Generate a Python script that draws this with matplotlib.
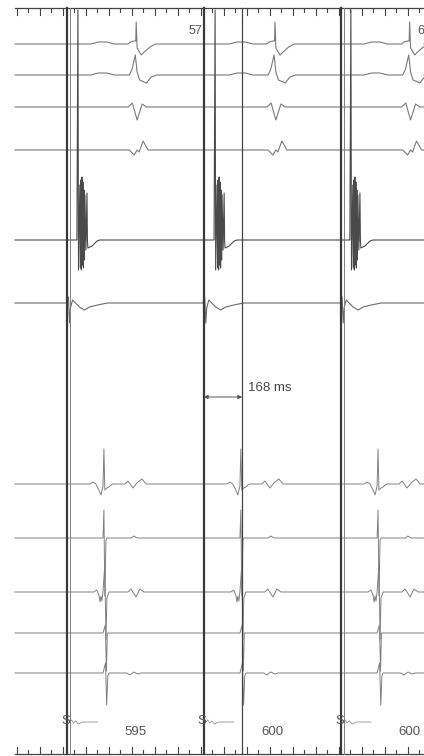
import matplotlib
matplotlib.use("Agg")
import matplotlib.pyplot as plt
import numpy as np

# ---------------- data (times in ms, amplitudes in display units) ----------------
stim_times = [0, 595, 1195]                 # pacing stimuli S
interval_labels = ["595", "600", "600"]
interval_values = [595, 600, 600]
measured_interval = 168                      # ms after 2nd stimulus
measured_label = "168 ms"
upper_times = [300, 906, 1494]               # surface deflections (ch1-4)
ch5_times = [63, 662, 1255]                  # large near-field deflection
lower_times = [159, 757, 1356]               # lower channel activation

top_labels = ["57", "6"]
top_label_times = [587, 1530]

# waveform templates: (ms offset from beat, amplitude)
tpl_ch1 = [(-200, 0), (-165, 2), (-130, 2), (-96, 0), (-35, 0), (-26, 2), (-9, 3), (-2, 3),
           (0, 22), (4, -4), (22, -11), (35, -8), (60, -3), (85, 0)]
tpl_ch2 = [(-200, 0), (-165, 2), (-130, 2), (-95, 0), (-30, 0), (-18, 6), (-4, 20), (4, 3),
           (15, -5), (45, -8), (65, -2), (90, 0)]
tpl_ch3 = [(-35, 0), (-17, 4), (4, -13), (26, 3), (44, 0)]
tpl_ch4 = [(-30, 0), (-9, -5), (4, 0), (13, -2), (30, 9), (52, 0)]
tpl_ch5 = [(-35, 0), (-22, 0), (-17.5, 230), (-15, -30), (-9, 55), (-6.5, -28), (-4.4, 60),
           (-2.2, -30), (0, 63), (2.2, -25), (4.4, 58), (6.5, -28), (8.7, 50), (11, -20),
           (13, 45), (17.5, -10), (22, 47), (24, 0), (26, -8), (44, -6), (66, -1), (79, 0)]
tpl_ch6 = [(-4, 0), (4, 6), (9, -20), (13, -5), (22, 3), (35, 0), (52, -4), (74, -7),
           (96, -4), (131, -2), (175, 0)]
tpl_ch7 = [(-61, 0), (-48, 2), (-35, 0), (-22, -6), (-13, -11), (-4, -2), (0, 35), (4, -6),
           (13, -4), (22, -3), (31, -1), (39, 0), (92, 0), (105, 3), (127, -4), (144, 1),
           (166, 5), (184, 0)]
tpl_ch8 = [(-13, 0), (-4, 0), (0, 28), (4, -58), (9, -2), (13, 0), (120, 0), (130, 2), (145, 0)]
tpl_ch9 = [(-44, 0), (-31, 2), (-22, -3), (-17, -10), (-13, -4), (-9, -9), (-4, 0), (4, 28),
           (9, -48), (13, -6), (22, 0), (105, 0), (118, 3), (140, -5), (157, 3), (175, 0)]
tpl_ch10 = [(-4, 0), (6, 8), (11, -38), (15, 0)]
tpl_ch11 = [(-4, 0), (7, 10), (12, -32), (17, -3), (22, 0), (100, 0), (113, -2), (131, 1),
            (148, -1), (162, 0)]
tpl_ch12 = [(9, 0), (18, 2), (26, -1), (35, 1), (48, -2), (66, 0), (130, 0)]

# ---------------- layout ----------------
W, H = 424, 756
X0_PX, PX_PER_MS = 67.5, 0.229
t_left = -X0_PX / PX_PER_MS
t_right = (W - X0_PX) / PX_PER_MS
t_start = (15 - X0_PX) / PX_PER_MS

fig = plt.figure(figsize=(W / 100, H / 100), dpi=100)
ax = fig.add_axes([0, 0, 1, 1])
ax.set_xlim(t_left, t_right)
ax.set_ylim(H, 0)
ax.axis("off")

def build(times, tpl, t0=t_start, t1=t_right, full=True):
    ts, ys = ([t0], [0]) if full else ([], [])
    for b in times:
        for dt, a in tpl:
            ts.append(b + dt)
            ys.append(a)
    if full:
        ts.append(t1)
        ys.append(0)
    return np.array(ts), np.array(ys)

channels = [
    (44, upper_times, tpl_ch1, "#7a7a7a", 0.8),
    (75, upper_times, tpl_ch2, "#7a7a7a", 0.8),
    (107, upper_times, tpl_ch3, "#7a7a7a", 0.8),
    (150, upper_times, tpl_ch4, "#7a7a7a", 0.8),
    (240, ch5_times, tpl_ch5, "#4a4a4a", 0.8),
    (303, stim_times, tpl_ch6, "#6a6a6a", 0.8),
    (484, lower_times, tpl_ch7, "#808080", 0.7),
    (538, lower_times, tpl_ch8, "#808080", 0.7),
    (592, lower_times, tpl_ch9, "#808080", 0.7),
    (633, lower_times, tpl_ch10, "#808080", 0.7),
    (673, lower_times, tpl_ch11, "#808080", 0.7),
]
for base, times, tpl, col, lw in channels:
    ts, ys = build(times, tpl)
    ax.plot(ts, base - ys, color=col, lw=lw, solid_joinstyle="round")

# stimulus channel: short trace after each S
for s in stim_times:
    ts, ys = build([s], tpl_ch12, full=False)
    ax.plot(ts, 722 - ys, color="#a0a0a0", lw=0.7)

# rulers
tick_t = np.arange(-222, t_right, 50.2)
ax.plot([t_start, t_right], [8, 8], color="#444444", lw=0.9)
ax.plot([t_start, t_right], [754, 754], color="#444444", lw=0.9)
for k, t in enumerate(tick_t):
    L = 7 if k % 2 == 0 else 4
    ax.plot([t, t], [8, 8 + L], color="#444444", lw=0.8)
    ax.plot([t, t], [754, 754 - L], color="#444444", lw=0.8)

# stimulus lines
for i, s in enumerate(stim_times):
    ax.plot([s, s], [8, 754], color="#3a3a3a", lw=1.6)
    if i != 1:
        ax.plot([s + 13, s + 13], [8, 754], color="#808080", lw=0.7)
    ax.text(s - 6.5, 721, "S", fontsize=9.5, ha="center", va="center",
            color="#555555", family="Liberation Sans")
    mid = s + interval_values[i] / 2
    ax.text(mid, 732, interval_labels[i], fontsize=9.5, ha="center", va="center",
            color="#555555", family="Liberation Sans")

# measurement
t_meas = stim_times[1] + measured_interval
ax.plot([t_meas, t_meas], [8, 754], color="#444444", lw=0.9)
ax.annotate("", xy=(t_meas, 397), xytext=(stim_times[1], 397),
            arrowprops=dict(arrowstyle="<|-|>", color="#555555", lw=0.7,
                            mutation_scale=6, shrinkA=0, shrinkB=0))
ax.text(t_meas + 25, 388, measured_label, fontsize=9.5, ha="left", va="center",
        color="#444444", family="Liberation Sans")

for lab, t in zip(top_labels, top_label_times):
    ax.text(t, 31, lab, fontsize=9, ha="right" if lab == "57" else "left", va="center",
            color="#555555", family="Liberation Sans")

fig.savefig("out.png", dpi=100, facecolor="white")
